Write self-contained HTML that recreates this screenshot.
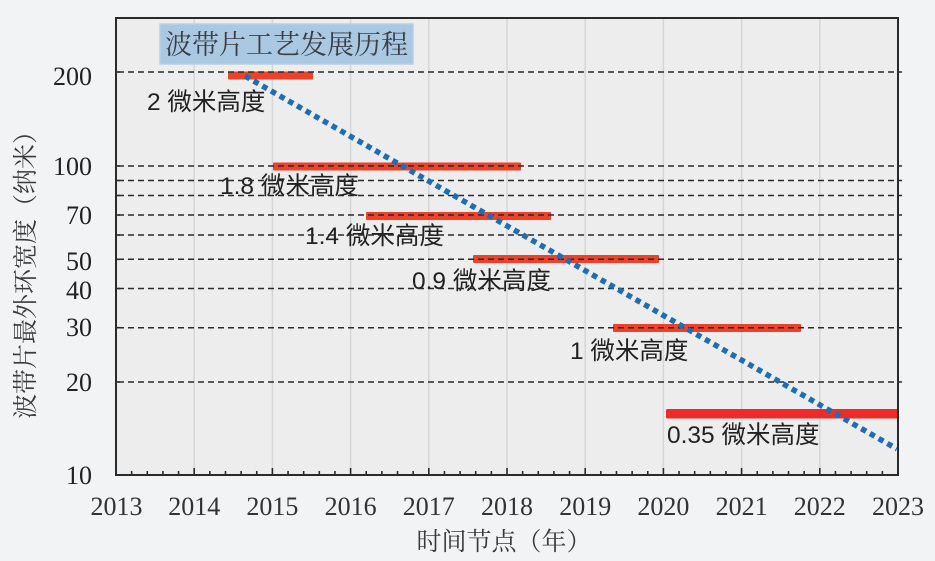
<!DOCTYPE html>
<html>
<head>
<meta charset="utf-8">
<style>
  html,body{margin:0;padding:0;background:#f1f3f5;}
  svg{display:block;}
  .ser{font-family:"Liberation Serif","Noto Serif CJK SC",serif;}
  .cj{font-family:"Noto Serif CJK SC","Liberation Serif",serif;}
  .lab{font-family:"Liberation Sans","Noto Sans CJK SC",sans-serif;}
</style>
</head>
<body>
<svg width="935" height="561" viewBox="0 0 935 561" xmlns="http://www.w3.org/2000/svg">
  <rect x="0" y="0" width="935" height="561" fill="#f1f3f5"/>
  <!-- plot background -->
  <rect x="116" y="18" width="782" height="457" fill="#ededee"/>
  <!-- vertical gridlines -->
  <g stroke="#d5d6d7" stroke-width="1.5">
    <line x1="194.2" y1="18" x2="194.2" y2="475"/>
    <line x1="272.4" y1="18" x2="272.4" y2="475"/>
    <line x1="350.6" y1="18" x2="350.6" y2="475"/>
    <line x1="428.8" y1="18" x2="428.8" y2="475"/>
    <line x1="507" y1="18" x2="507" y2="475"/>
    <line x1="585.2" y1="18" x2="585.2" y2="475"/>
    <line x1="663.4" y1="18" x2="663.4" y2="475"/>
    <line x1="741.6" y1="18" x2="741.6" y2="475"/>
    <line x1="819.8" y1="18" x2="819.8" y2="475"/>
  </g>

  <!-- title box -->
  <rect x="160" y="24" width="253" height="40" fill="#aac8e1" stroke="#b9cfe0" stroke-width="1.5"/>
  <text x="286.5" y="54" text-anchor="middle" class="cj" font-size="27" fill="#3a3f45">波带片工艺发展历程</text>

  <!-- red bars -->
  <g fill="#ee4129">
    <rect x="228" y="71.5" width="85" height="8" rx="1"/>
    <rect x="273" y="162.5" width="248" height="8" rx="1"/>
    <rect x="366" y="212" width="185" height="8" rx="1"/>
    <rect x="473" y="255" width="186" height="8" rx="1"/>
    <rect x="613" y="324" width="188" height="8" rx="1"/>
  </g>
  <rect x="666" y="409" width="233" height="9.5" rx="1.5" fill="#ee2b27"/>

  <!-- bar labels -->
  <g class="lab" font-size="24.5" fill="#222">
    <text x="147" y="110">2 微米高度</text>
    <text x="220" y="194">1.8 微米高度</text>
    <text x="305" y="244">1.4 微米高度</text>
    <text x="412" y="289">0.9 微米高度</text>
    <text x="570" y="359">1 微米高度</text>
    <text x="667" y="443">0.35 微米高度</text>
  </g>

  <!-- horizontal dashed lines -->
  <g stroke="#2a2a2a" stroke-width="1.5" stroke-dasharray="6 4">
    <line x1="118" y1="72" x2="902" y2="72"/>
    <line x1="118" y1="166" x2="902" y2="166"/>
    <line x1="118" y1="180.5" x2="902" y2="180.5"/>
    <line x1="118" y1="195.5" x2="902" y2="195.5"/>
    <line x1="118" y1="215" x2="902" y2="215"/>
    <line x1="118" y1="235" x2="902" y2="235"/>
    <line x1="118" y1="259.3" x2="902" y2="259.3"/>
    <line x1="118" y1="288.5" x2="902" y2="288.5"/>
    <line x1="118" y1="327.7" x2="902" y2="327.7"/>
    <line x1="118" y1="382" x2="902" y2="382"/>
  </g>

  <!-- blue dotted trend -->
  <line x1="245" y1="76" x2="897" y2="449" stroke="#1f6db3" stroke-width="5.5" stroke-dasharray="5.5 4.5"/>

  <!-- frame -->
  <rect x="116" y="18" width="782" height="457" fill="none" stroke="#2a2a2a" stroke-width="2"/>

  <!-- bottom ticks -->
  <g stroke="#2a2a2a" stroke-width="1.6">
    <path d="M194.2 475v-7M272.4 475v-7M350.6 475v-7M428.8 475v-7M507 475v-7M585.2 475v-7M663.4 475v-7M741.6 475v-7M819.8 475v-7"/>
    <path d="M131.64 475v-4M147.28 475v-4M162.92 475v-4M178.56 475v-4
      M209.84 475v-4M225.48 475v-4M241.12 475v-4M256.76 475v-4
      M288.04 475v-4M303.68 475v-4M319.32 475v-4M334.96 475v-4
      M366.24 475v-4M381.88 475v-4M397.52 475v-4M413.16 475v-4
      M444.44 475v-4M460.08 475v-4M475.72 475v-4M491.36 475v-4
      M522.64 475v-4M538.28 475v-4M553.92 475v-4M569.56 475v-4
      M600.84 475v-4M616.48 475v-4M632.12 475v-4M647.76 475v-4
      M679.04 475v-4M694.68 475v-4M710.32 475v-4M725.96 475v-4
      M757.24 475v-4M772.88 475v-4M788.52 475v-4M804.16 475v-4
      M835.44 475v-4M851.08 475v-4M866.72 475v-4M882.36 475v-4"/>
    <!-- left ticks -->
    <path d="M116 72h4M116 166h4M116 180.5h4M116 195.5h4M116 215h4M116 235h4M116 259.3h4M116 288.5h4M116 327.7h4M116 382h4"/>
  </g>

  <!-- y tick labels -->
  <g class="ser" font-size="26" fill="#222" text-anchor="end">
    <text x="92" y="85">200</text>
    <text x="92" y="175">100</text>
    <text x="92" y="224">70</text>
    <text x="92" y="270">50</text>
    <text x="92" y="299">40</text>
    <text x="92" y="336">30</text>
    <text x="92" y="391">20</text>
    <text x="92" y="484">10</text>
  </g>

  <!-- x tick labels -->
  <g class="ser" font-size="26" fill="#333" text-anchor="middle">
    <text x="116.5" y="515">2013</text>
    <text x="194.2" y="515">2014</text>
    <text x="272.4" y="515">2015</text>
    <text x="350.6" y="515">2016</text>
    <text x="428.8" y="515">2017</text>
    <text x="507" y="515">2018</text>
    <text x="585.2" y="515">2019</text>
    <text x="663.4" y="515">2020</text>
    <text x="741.6" y="515">2021</text>
    <text x="819.8" y="515">2022</text>
    <text x="898" y="515">2023</text>
  </g>

  <!-- axis titles -->
  <text x="504" y="550" text-anchor="middle" class="cj" font-size="25" fill="#3a3a3a">时间节点（年）</text>
  <text transform="translate(34,269) rotate(-90)" text-anchor="middle" class="cj" font-size="25" fill="#3a3a3a">波带片最外环宽度（纳米）</text>
</svg>
</body>
</html>
